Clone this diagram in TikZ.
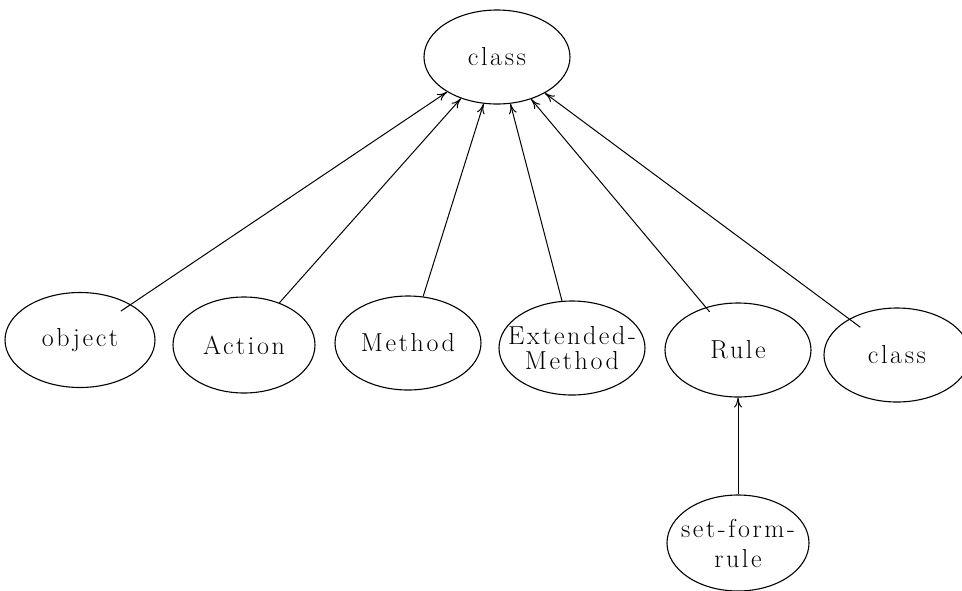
\documentclass[tikz,border=0pt]{standalone}
\usepackage{fontspec}
\newfontfamily\lmspaced{Latin Modern Roman}[LetterSpace=10]
\usetikzlibrary{shapes.geometric,arrows.meta}
\begin{document}
\begin{tikzpicture}[x=1pt,y=-1pt,
  cls/.style={draw, ellipse, line width=1.1pt, inner sep=0pt,
    minimum width=146pt, minimum height=94pt, align=center,
    font=\lmspaced\fontsize{26}{25}\selectfont},
  isa/.style={line width=1pt, -{To[length=10pt,width=8pt]}}]
\useasboundingbox (0,0) rectangle (962,590);
\node[cls] (top) at (497,57) {class};
\node[cls, minimum width=150pt, minimum height=95pt] (obj) at (80,340) {object};
\node[cls, minimum width=142pt, minimum height=96pt] (act) at (244,345) {Action};
\node[cls] (meth) at (408,343) {Method};
\node[cls, inner xsep=-20pt] (ext) at (572,348) {Extended-\\Method};
\node[cls] (rule) at (738,350) {Rule};
\node[cls] (cls2) at (897,355) {class};
\node[cls, inner xsep=-15pt, minimum width=142pt, minimum height=96pt] (sfr) at (738,543) {set-form-\\[5pt]rule};
\draw[isa, shorten <=-12pt] (obj.35) -- (top.215);
\draw[isa] (act.50) -- (top.229);
\draw[isa] (meth.72) -- (top.254);
\draw[isa] (ext.102) -- (top.286);
\draw[isa, shorten <=-6pt] (rule.127) -- (top.309);
\draw[isa, shorten <=-14pt] (cls2.143) -- (top.323);
\draw[isa] (sfr.north) -- (rule.south);
\end{tikzpicture}
\end{document}
